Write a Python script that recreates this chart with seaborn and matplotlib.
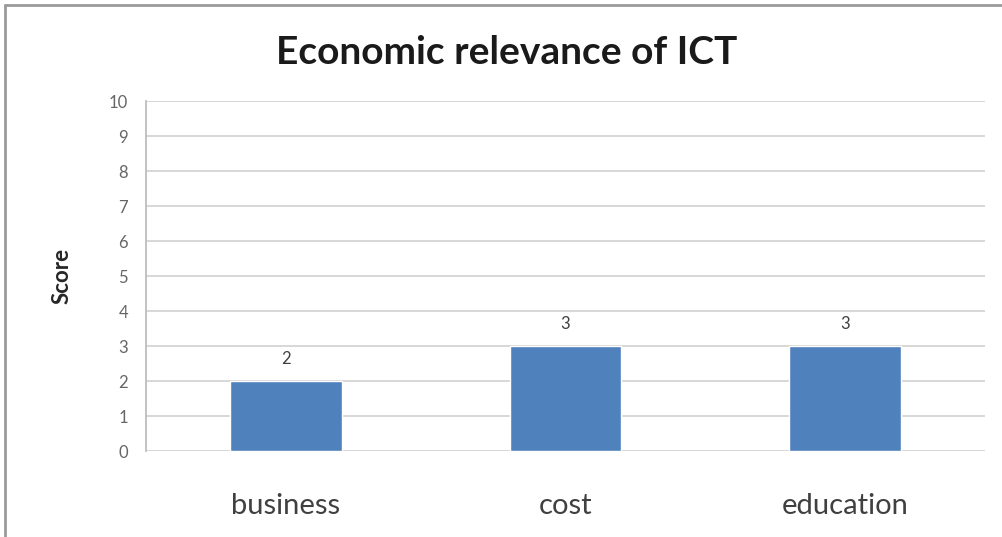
import matplotlib
matplotlib.use("Agg")
import matplotlib.pyplot as plt
import seaborn as sns
import pandas as pd
from matplotlib.lines import Line2D

# %% Data
categories = ["business", "cost", "education"]
scores = [2, 3, 3]

df = pd.DataFrame({"category": categories, "score": scores})

# %% Style
sns.set_theme(style="white")
plt.rcParams["font.family"] = ["Lato", "DejaVu Sans"]

fig = plt.figure(figsize=(10.02, 5.37), dpi=100)
ax = fig.add_axes([0.1457, 0.1601, 0.8373, 0.6518])

sns.barplot(data=df, x="category", y="score", color="#4F81BD",
            saturation=1, width=0.4, ax=ax, zorder=3)

ax.set_ylim(0, 10)
ax.set_yticks(range(0, 11))
ax.yaxis.grid(True, color="#d4d4d4", linewidth=1.3, zorder=0)
ax.set_axisbelow(True)

for side in ["top", "right", "bottom"]:
    ax.spines[side].set_visible(False)
ax.spines["left"].set_color("#bdbdbd")
ax.spines["left"].set_linewidth(1.3)

ax.tick_params(axis="y", labelsize=12, colors="#666666", length=5,
               width=1.2, color="#bdbdbd", pad=8)
ax.tick_params(axis="x", labelsize=21, colors="#404040", length=0, pad=30)

ax.set_xlabel("")
ax.set_ylabel("Score", fontsize=16, fontweight="bold", color="#262626")
ax.yaxis.set_label_coords(-0.088, 0.5)

# value labels
for cont in ax.containers:
    ax.bar_label(cont, fontsize=12, color="#404040", padding=10)

fig.suptitle("Economic relevance of ICT", fontsize=28, fontweight="bold",
             color="#1a1a1a", x=0.506, y=0.903, va="center")

# outer frame lines (top and left)
fig.add_artist(Line2D([0.005, 1.0], [0.99, 0.99], transform=fig.transFigure,
                      color="#9a9a9a", linewidth=2))
fig.add_artist(Line2D([0.005, 0.005], [0.0, 0.99], transform=fig.transFigure,
                      color="#9a9a9a", linewidth=2))

fig.savefig("out.png", dpi=100)
